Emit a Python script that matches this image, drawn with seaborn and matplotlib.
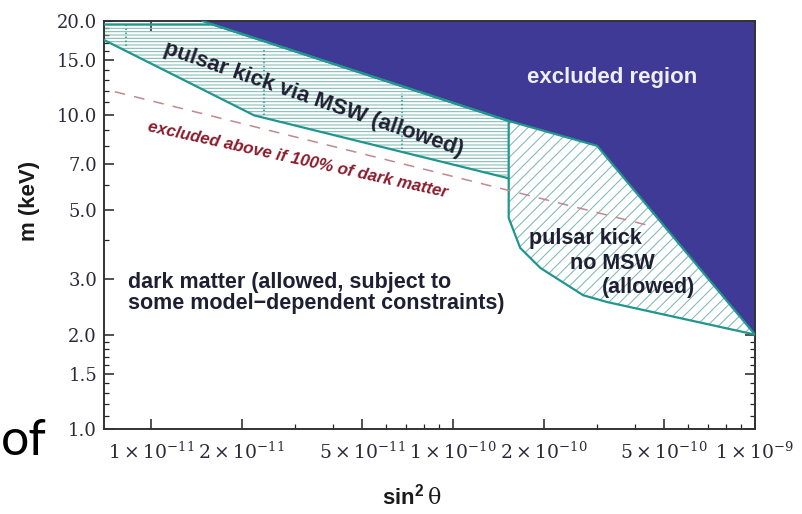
import numpy as np
import pandas as pd
import matplotlib
matplotlib.use("Agg")
import matplotlib.pyplot as plt
import seaborn as sns
from matplotlib.ticker import FixedLocator, FixedFormatter, NullFormatter

# ---------------- data ----------------
excl_x = [1.48e-11, 1.53e-10, 3.0e-10, 1.0e-9]
excl_y = [20.0, 9.6, 8.0, 2.0]

msw_top_x = [7.0e-12, 1.6e-11, 1.53e-10]
msw_top_y = [19.5, 19.5, 9.6]
msw_bot_x = [7.0e-12, 2.2e-11, 1.53e-10]
msw_bot_y = [17.4, 10.0, 6.3]

nomsw_top_x = [1.53e-10, 3.0e-10, 1.0e-9]
nomsw_top_y = [9.6, 8.0, 2.0]
nomsw_bot_x = [1.53e-10, 1.53e-10, 1.67e-10, 1.95e-10, 2.7e-10, 3.24e-10, 1.0e-9]
nomsw_bot_y = [9.6, 4.71, 3.78, 3.26, 2.67, 2.54, 2.0]

dm_x = [7.6e-12, 4.6e-10]
dm_y = [11.9, 4.42]

dot_x = [8.3e-12, 2.37e-11, 6.8e-11]
dot_lo = [16.6, 10.0, 7.8]
dot_hi = [19.4, 16.4, 11.8]

xticks = [1e-11, 2e-11, 5e-11, 1e-10, 2e-10, 5e-10, 1e-9]
xtick_labels = [r"$1\times10^{-11}$", r"$2\times10^{-11}$", r"$5\times10^{-11}$",
                r"$1\times10^{-10}$", r"$2\times10^{-10}$", r"$5\times10^{-10}$",
                r"$1\times10^{-9}$"]
xminor = [3e-11, 4e-11, 6e-11, 7e-11, 8e-11, 9e-11,
          3e-10, 4e-10, 6e-10, 7e-10, 8e-10, 9e-10]
yticks = [1.0, 1.5, 2.0, 3.0, 5.0, 7.0, 10.0, 15.0, 20.0]
ytick_labels = ["1.0", "1.5", "2.0", "3.0", "5.0", "7.0", "10.0", "15.0", "20.0"]
yminor = [1.1, 1.2, 1.3, 1.4, 1.6, 1.7, 1.8, 1.9, 4.0, 6.0, 8.0, 9.0,
          11.0, 12.0, 13.0, 14.0, 16.0, 17.0, 18.0, 19.0]

# ---------------- style ----------------
sns.set_theme(style="ticks")
plt.rcParams.update({
    "font.family": ["Liberation Sans", "DejaVu Sans"],
    "hatch.linewidth": 0.75,
    "mathtext.fontset": "custom",
    "mathtext.bf": "Liberation Sans:bold",
    "mathtext.rm": "DejaVu Serif",
    "mathtext.it": "DejaVu Serif:italic",
})

BLUE = "#3e3a96"
TEAL = "#21968e"
HATCH = "#7fb8b4"
DARK = "#1f1f33"
RED = "#8a1c2c"
DASH = "#c08a8a"

fig = plt.figure(figsize=(8.03, 5.14), dpi=100)
ax = fig.add_axes([104 / 803, 1 - 429 / 514, 651 / 803, 408 / 514])
ax.set_xscale("log")
ax.set_yscale("log")
ax.set_xlim(7.0e-12, 1.0e-9)
ax.set_ylim(1.0, 20.0)

# excluded region
ax.fill(excl_x + [excl_x[-1], excl_x[0]], excl_y + [20.0, 20.0],
        facecolor=BLUE, edgecolor="none", zorder=1)

# MSW allowed region (horizontal hatch)
ax.fill(msw_top_x + msw_bot_x[::-1], msw_top_y + msw_bot_y[::-1],
        facecolor="none", edgecolor=HATCH, hatch="-----", linewidth=0, zorder=1)

# no-MSW allowed region (diagonal hatch)
ax.fill(nomsw_top_x + nomsw_bot_x[::-1], nomsw_top_y + nomsw_bot_y[::-1],
        facecolor="none", edgecolor=HATCH, hatch="///", linewidth=0, zorder=1)

# boundaries
for xs, ys in [(excl_x, excl_y), (msw_top_x, msw_top_y),
               (msw_bot_x, msw_bot_y), (nomsw_bot_x, nomsw_bot_y)]:
    df = pd.DataFrame({"x": xs, "y": ys})
    sns.lineplot(data=df, x="x", y="y", sort=False, estimator=None, ax=ax,
                 color=TEAL, linewidth=1.6, zorder=3)

ax.vlines(dot_x, dot_lo, dot_hi, colors=TEAL, linewidth=1.1,
          linestyles=(0, (1, 1.6)), zorder=3)

# dark-matter dashed line
sns.lineplot(data=pd.DataFrame({"x": dm_x, "y": dm_y}), x="x", y="y",
             sort=False, estimator=None, ax=ax, color=DASH, linewidth=1.1,
             dashes=False, zorder=4)
ax.lines[-1].set_linestyle((0, (7, 6)))

# ---------------- axes / ticks ----------------
ax.xaxis.set_major_locator(FixedLocator(xticks))
ax.xaxis.set_major_formatter(FixedFormatter(xtick_labels))
ax.xaxis.set_minor_locator(FixedLocator(xminor))
ax.xaxis.set_minor_formatter(NullFormatter())
ax.yaxis.set_major_locator(FixedLocator(yticks))
ax.yaxis.set_major_formatter(FixedFormatter(ytick_labels))
ax.yaxis.set_minor_locator(FixedLocator(yminor))
ax.yaxis.set_minor_formatter(NullFormatter())

ax.tick_params(which="both", direction="in", top=True, right=True,
               colors="#222222", labelcolor="#2a2a3a")
ax.tick_params(which="major", length=7, width=1.1)
ax.tick_params(which="minor", length=3.5, width=0.9)
ax.tick_params(axis="x", which="major", pad=9)
ax.tick_params(axis="y", which="major", pad=5)
for lab in ax.get_xticklabels():
    lab.set_fontsize(13.5)
    lab.set_math_fontfamily("dejavuserif")
for lab in ax.get_yticklabels():
    lab.set_fontsize(13)
    lab.set_fontfamily("DejaVu Serif")

for sp in ax.spines.values():
    sp.set_color("#333333")
    sp.set_linewidth(1.4)

ax.set_xlabel(r"$\mathbf{sin}^{\mathbf{2}}\,\mathrm{\theta}$", fontsize=16,
              color="#1a1a1a")
ax.xaxis.label.set_math_fontfamily("custom")
ax.xaxis.set_label_coords((412 - 104) / 651, (429 - 497) / 408)
ax.xaxis.label.set_va("center")
ax.set_ylabel("m (keV)", fontsize=16, fontweight="bold", color="#1a1a1a")
ax.yaxis.set_label_coords((30 - 104) / 651, (429 - 201) / 408)
ax.yaxis.label.set_va("center")
ax.yaxis.label.set_ha("center")

# ---------------- annotations ----------------
def afr(px, py):
    return ((px - 104) / 651, (429 - py) / 408)

ax.text(*afr(612, 77), "excluded region", transform=ax.transAxes, ha="center",
        va="center", fontsize=16, fontweight="bold", color="#eeeef6", zorder=5)
ax.text(*afr(314, 99), "pulsar kick via MSW (allowed)", transform=ax.transAxes,
        ha="center", va="center", rotation=-19, rotation_mode="anchor",
        fontsize=16, fontweight="bold", color=DARK, zorder=5)
ax.text(*afr(298, 160), "excluded above if 100% of dark matter",
        transform=ax.transAxes, ha="center", va="center", rotation=-12.5,
        rotation_mode="anchor", fontsize=12.2, fontweight="bold",
        fontstyle="italic", color=RED, zorder=5)
ax.text(*afr(128, 293), "dark matter (allowed, subject to\nsome model\u2212dependent constraints)",
        transform=ax.transAxes, ha="left", va="center", linespacing=1.05,
        fontsize=15.5, fontweight="bold", color=DARK, zorder=5)
ax.text(*afr(585, 238), "pulsar kick", transform=ax.transAxes, ha="center",
        va="center", fontsize=15.5, fontweight="bold", color=DARK, zorder=5)
ax.text(*afr(612, 263), "no MSW", transform=ax.transAxes, ha="center",
        va="center", fontsize=15.5, fontweight="bold", color=DARK, zorder=5)
ax.text(*afr(649, 287), "(allowed)", transform=ax.transAxes, ha="center",
        va="center", fontsize=15.5, fontweight="bold", color=DARK, zorder=5)

# slide text fragment at bottom-left
fig.text(1 / 803, 1 - 455 / 514, "of", ha="left", va="baseline",
         fontsize=36, family=["Lato", "DejaVu Sans"], color="black")

fig.savefig("out.png", dpi=100)
